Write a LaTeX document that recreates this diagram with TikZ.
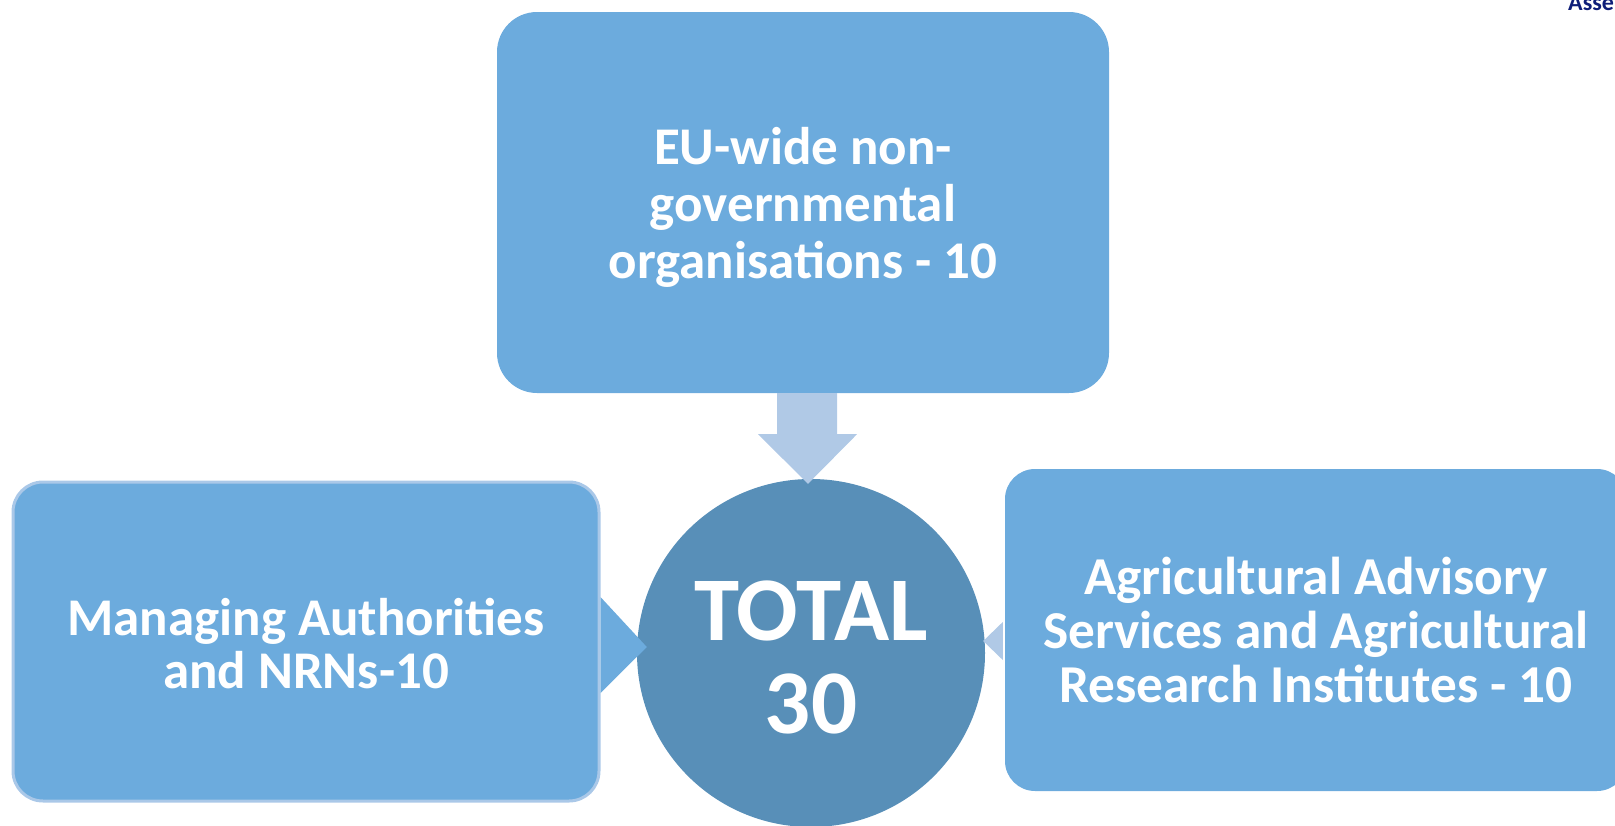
\documentclass[tikz,border=0pt]{standalone}
\usepackage{fontspec}
\setmainfont{Carlito}
\usetikzlibrary{calc}
\definecolor{boxblue}{RGB}{108,171,221}
\definecolor{boxedge}{RGB}{170,200,232}
\definecolor{circblue}{RGB}{88,143,184}
\definecolor{arrowlight}{RGB}{176,201,230}
\definecolor{navy}{RGB}{14,30,120}
\tikzset{
  box/.style={fill=boxblue, rounded corners=40pt, inner sep=0pt},
  label text/.style={inner sep=0pt, text=white, align=center},
}
\begin{document}
\begin{tikzpicture}[x=1pt,y=-1pt]
\useasboundingbox (0,0) rectangle (1615,825);
% boxes
\node[box, minimum width=612pt, minimum height=381pt] (ngo) at (803,202.5) {};
\node[box, draw=boxedge, line width=3pt, rounded corners=30pt, minimum width=586pt, minimum height=319pt] (ma) at (306,641.5) {};
\node[box, rounded corners=30pt, minimum width=622pt, minimum height=322pt] (aas) at (1316,630) {};
% centre
\node[circle, fill=circblue, minimum size=348pt, inner sep=0pt] (total) at (811,653) {};
% texts
\node[label text, font=\bfseries\fontsize{53}{57}\selectfont] (ngotext) at ($(ngo.center)+(0,5)$)
  {EU-wide non-\\governmental\\organisations - 10};
\node[label text, font=\bfseries\fontsize{53}{53}\selectfont] (matext) at ($(ma.center)+(0,2)$)
  {Managing Authorities\\and NRNs-10};
\node[label text, font=\bfseries\fontsize{53.3}{54}\selectfont] (aastext) at (aas.center)
  {Agricultural Advisory\\Services and Agricultural\\Research Institutes - 10};
\node[label text, font=\bfseries\fontsize{91}{93}\selectfont] (totaltext) at ($(total.center)+(0,4)$)
  {TOTAL\\30};
% arrows
\fill[arrowlight] ($(ngo.south)+(-26,0)$) -- ($(ngo.south)+(34,0)$) -- ($(ngo.south)+(34,41)$) -- ($(ngo.south)+(54,41)$)
  -- ($(total.north)+(-3,5)$) -- ($(ngo.south)+(-45,41)$) -- ($(ngo.south)+(-26,41)$) -- cycle;
\fill[boxblue] ($(ma.east)+(0,-44.5)$) -- ($(total.west)+(10,-6)$) -- ($(ma.east)+(0,51.5)$) -- cycle;
\fill[arrowlight] ($(aas.west)+(-2,-8)$) -- ($(total.east)+(-2,-12)$) -- ($(aas.west)+(-2,30)$) -- cycle;
% corner text
\node[anchor=base west, inner sep=0pt, text=navy, font=\bfseries\fontsize{24}{28}\selectfont] (asse) at (1568,10) {Asse};
\end{tikzpicture}
\end{document}
